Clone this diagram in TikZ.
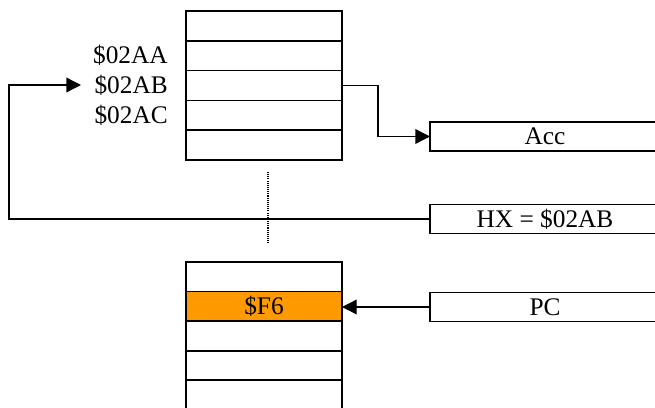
\documentclass[tikz,border=0pt]{standalone}
\usepackage{fontspec}
\setmainfont{Liberation Serif}
\usetikzlibrary{arrows.meta}
\definecolor{cellorange}{RGB}{255,153,0}
\begin{document}
\begin{tikzpicture}[x=0.75pt,y=-0.75pt,
  font=\fontsize{19}{22}\selectfont,
  cell/.style={draw=black,line width=1.3pt,minimum width=117pt,minimum height=22.35pt,inner sep=0pt,outer sep=0pt},
  regbox/.style={draw=black,line width=1.3pt,minimum width=172.5pt,minimum height=21.75pt,inner sep=0pt,outer sep=0pt},
  addr/.style={anchor=base east,inner sep=0pt},
  conn/.style={draw=black,line width=1pt},
  arr/.style={conn,-{Triangle[length=11pt,width=11pt]}}]
\useasboundingbox (0,0) rectangle (655,407);
\clip (0,0) rectangle (655,407);
% top memory
\foreach \i in {1,...,5}{
  \node[cell] (m\i) at (264,{11+14.9+(\i-1)*29.8}) {};
}
\node[addr] (l1) at (168,63.5) {\$02AA};
\node[addr] (l2) at (168,93.5) {\$02AB};
\node[addr] (l3) at (168,123) {\$02AC};
% bottom memory
\node[cell] (b1) at (264,{262+14.8}) {};
\node[cell,fill=cellorange] (b2) at (264,{262+14.8+29.6}) {\$F6};
\foreach \i in {3,...,5}{
  \node[cell] (b\i) at (264,{262+14.8+(\i-1)*29.6}) {};
}
% registers
\node[regbox] (acc) at (545,136.5) {Acc};
\node[regbox] (hx) at (545,219) {HX = \$02AB};
\node[regbox] (pc) at (545,307) {PC};
% dotted continuation
\coordinate (dtop) at (268,172);
\coordinate (dbot) at (268,244);
\draw[line width=0.9pt,dash pattern=on 0.8pt off 0.8pt] (dtop) -- (dbot);
% connectors
\coordinate (bend) at (378,0);
\draw[arr] (m3.east) -| (bend |- acc.west) -- (acc.west);
\coordinate (lc) at (9,85);
\coordinate (aend) at (81,85);
\draw[arr] (hx.west) -| (lc) -- (aend);
\draw[arr] (pc.west) -- (pc.west -| b2.east);
\end{tikzpicture}
\end{document}
